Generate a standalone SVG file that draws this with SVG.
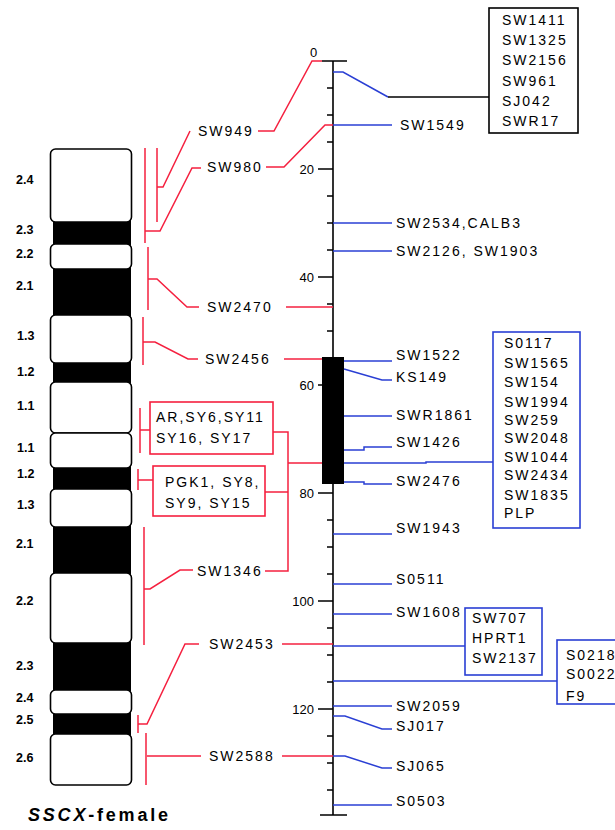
<svg xmlns="http://www.w3.org/2000/svg" width="615" height="830" viewBox="0 0 615 830">
<style>
text{font-family:"Liberation Sans",Arial,sans-serif;fill:#000}
.lbl{font-size:14px;letter-spacing:2px}
.band{font-size:12.5px;font-weight:bold}
.ax{font-size:13px}
.r{stroke:#f5203f;stroke-width:1.5;fill:none}
.b{stroke:#2a3fd4;stroke-width:1.5;fill:none}
.k{stroke:#000;stroke-width:1.6;fill:none}
.wb{fill:#fff;stroke:#000;stroke-width:1.6}
.bb{fill:#000}
.rbox{fill:#fff;stroke:#f5203f;stroke-width:1.6}
.bbox{fill:#fff;stroke:#2a3fd4;stroke-width:1.6}
.kbox{fill:#fff;stroke:#000;stroke-width:1.6}
</style>
<rect width="615" height="830" fill="#fff"/>

<g id="chromosome">
<rect class="bb" x="53" y="220" width="78" height="26"/>
<rect class="bb" x="53" y="267" width="78" height="50"/>
<rect class="bb" x="53" y="361" width="78" height="23"/>
<rect class="bb" x="53" y="466" width="78" height="25"/>
<rect class="bb" x="53" y="525" width="78" height="50"/>
<rect class="bb" x="53" y="641" width="78" height="51"/>
<rect class="bb" x="53" y="712" width="78" height="24"/>
<rect class="wb" x="50.5" y="149" width="81" height="73" rx="5"/>
<rect class="wb" x="50.5" y="244" width="81" height="25" rx="5"/>
<rect class="wb" x="50.5" y="315" width="81" height="48" rx="5"/>
<rect class="wb" x="50.5" y="382" width="81" height="51" rx="5"/>
<rect class="wb" x="50.5" y="433" width="81" height="35" rx="5"/>
<rect class="wb" x="50.5" y="489" width="81" height="38" rx="5"/>
<rect class="wb" x="50.5" y="573" width="81" height="70" rx="5"/>
<rect class="wb" x="50.5" y="690" width="81" height="24" rx="5"/>
<rect class="wb" x="50.5" y="734" width="81" height="51" rx="5"/>
<text class="band" x="16" y="184">2.4</text>
<text class="band" x="16" y="234">2.3</text>
<text class="band" x="16" y="258">2.2</text>
<text class="band" x="16" y="290">2.1</text>
<text class="band" x="17" y="340">1.3</text>
<text class="band" x="17" y="376">1.2</text>
<text class="band" x="17" y="410">1.1</text>
<text class="band" x="17" y="452">1.1</text>
<text class="band" x="17" y="478">1.2</text>
<text class="band" x="17" y="509">1.3</text>
<text class="band" x="16" y="548">2.1</text>
<text class="band" x="16" y="605">2.2</text>
<text class="band" x="16" y="670">2.3</text>
<text class="band" x="16" y="702">2.4</text>
<text class="band" x="16" y="724">2.5</text>
<text class="band" x="16" y="762">2.6</text>
<text x="28" y="821" font-size="18" font-weight="bold" letter-spacing="2.8"><tspan font-style="italic">SSCX</tspan>-female</text>
</g>

<g id="axis">
<path class="k" d="M333 61V815M322 61H347M320 815H347"/>
<path class="k" d="M318 169H333M318 277H333M318 385H333M318 493H333M318 601H333M318 709H333"/>
<path class="k" d="M327 88H333M327 115H333M327 142H333M327 196H333M327 223H333M327 250H333M327 304H333M327 331H333M327 358H333M327 412H333M327 439H333M327 466H333M327 520H333M327 547H333M327 574H333M327 628H333M327 655H333M327 682H333M327 736H333M327 763H333M327 790H333"/>
<text class="ax" x="310" y="57">0</text>
<text class="ax" x="314" y="174" text-anchor="end">20</text>
<text class="ax" x="314" y="282" text-anchor="end">40</text>
<text class="ax" x="314" y="390" text-anchor="end">60</text>
<text class="ax" x="314" y="498" text-anchor="end">80</text>
<text class="ax" x="314" y="606" text-anchor="end">100</text>
<text class="ax" x="314" y="714" text-anchor="end">120</text>
<rect x="322" y="357" width="22" height="127" fill="#000"/>
</g>

<g id="connectors">
<path class="r" d="M322 61H312L274 131H258"/>
<path class="r" d="M190 131L163 187H157M157 148V222"/>
<path class="r" d="M333 125H325L284 167H266"/>
<path class="r" d="M201 168H192L160 231H145M145 148V243"/>
<path class="r" d="M333 307H286"/>
<path class="r" d="M199 307H187L157 279H148M148 247V310"/>
<path class="r" d="M322 359H284"/>
<path class="r" d="M198 359H188L155 342H143M143 317V365"/>
<path class="r" d="M140 408V453M140 430H150"/>
<path class="r" d="M138 469V490M138 480H153"/>
<path class="r" d="M322 463H288M273 432H288V571H265M265 492H288"/>
<path class="r" d="M193 570H180L150 589H144M144 527V645"/>
<path class="r" d="M333 644H282"/>
<path class="r" d="M199 644H185L147 724H138M138 715V733"/>
<path class="r" d="M333 756H282"/>
<path class="r" d="M201 756H147M146 733V785"/>
<path class="b" d="M333 72H343L388 97"/>
<path class="k" d="M388 97H489"/>
<path class="b" d="M333 125H392"/>
<path class="b" d="M333 223H392"/>
<path class="b" d="M333 251H392"/>
<path class="b" d="M344 361H392"/>
<path class="b" d="M344 369L382 380H392"/>
<path class="b" d="M344 416H392"/>
<path class="b" d="M344 450H364V447H392"/>
<path class="b" d="M344 463H426V462H493"/>
<path class="b" d="M344 482H364V484H392"/>
<path class="b" d="M333 534H392"/>
<path class="b" d="M333 584H392"/>
<path class="b" d="M333 614H392"/>
<path class="b" d="M333 646H465"/>
<path class="b" d="M333 681H557"/>
<path class="b" d="M333 706H392"/>
<path class="b" d="M333 716H345L382 729H392"/>
<path class="b" d="M333 756H345L382 768H392"/>
<path class="b" d="M333 805H392"/>
</g>

<g id="left-labels">
<text class="lbl" x="198" y="136">SW949</text>
<text class="lbl" x="207" y="172">SW980</text>
<text class="lbl" x="207" y="312">SW2470</text>
<text class="lbl" x="205" y="364">SW2456</text>
<text class="lbl" x="197" y="576">SW1346</text>
<text class="lbl" x="209" y="649">SW2453</text>
<text class="lbl" x="209" y="761">SW2588</text>
</g>

<g id="box-AR">
<rect class="rbox" x="150" y="402" width="123" height="52"/>
<text class="lbl" x="156" y="422">AR,SY6,SY11</text>
<text class="lbl" x="156" y="443">SY16, SY17</text>
</g>
<g id="box-PGK1">
<rect class="rbox" x="153" y="466" width="112" height="50"/>
<text class="lbl" x="165" y="487">PGK1, SY8,</text>
<text class="lbl" x="165" y="508">SY9, SY15</text>
</g>

<g id="box-SW1411">
<rect class="kbox" x="489" y="8" width="89" height="125"/>
<text class="lbl" x="502" y="25">SW1411</text>
<text class="lbl" x="502" y="45">SW1325</text>
<text class="lbl" x="502" y="65">SW2156</text>
<text class="lbl" x="502" y="86">SW961</text>
<text class="lbl" x="502" y="106">SJ042</text>
<text class="lbl" x="502" y="126">SWR17</text>
</g>

<g id="right-labels">
<text class="lbl" x="400" y="130">SW1549</text>
<text class="lbl" x="396" y="228">SW2534,CALB3</text>
<text class="lbl" x="396" y="256">SW2126, SW1903</text>
<text class="lbl" x="396" y="360">SW1522</text>
<text class="lbl" x="396" y="382">KS149</text>
<text class="lbl" x="396" y="420">SWR1861</text>
<text class="lbl" x="396" y="447">SW1426</text>
<text class="lbl" x="396" y="486">SW2476</text>
<text class="lbl" x="396" y="533">SW1943</text>
<text class="lbl" x="396" y="584">S0511</text>
<text class="lbl" x="396" y="617">SW1608</text>
<text class="lbl" x="396" y="711">SW2059</text>
<text class="lbl" x="396" y="731">SJ017</text>
<text class="lbl" x="396" y="771">SJ065</text>
<text class="lbl" x="396" y="806">S0503</text>
</g>

<g id="box-S0117">
<rect class="bbox" x="493" y="332" width="87" height="196"/>
<text class="lbl" x="504" y="348">S0117</text>
<text class="lbl" x="504" y="368">SW1565</text>
<text class="lbl" x="504" y="387">SW154</text>
<text class="lbl" x="504" y="407">SW1994</text>
<text class="lbl" x="504" y="425">SW259</text>
<text class="lbl" x="504" y="443">SW2048</text>
<text class="lbl" x="504" y="462">SW1044</text>
<text class="lbl" x="504" y="480">SW2434</text>
<text class="lbl" x="504" y="500">SW1835</text>
<text class="lbl" x="504" y="518">PLP</text>
</g>

<g id="box-SW707">
<rect class="bbox" x="465" y="608" width="77" height="67"/>
<text class="lbl" x="472" y="623">SW707</text>
<text class="lbl" x="472" y="643">HPRT1</text>
<text class="lbl" x="472" y="663">SW2137</text>
</g>

<g id="box-S0218">
<rect class="bbox" x="557" y="640" width="70" height="64"/>
<text class="lbl" x="566" y="660">S0218</text>
<text class="lbl" x="566" y="679">S0022</text>
<text class="lbl" x="566" y="701">F9</text>
</g>
</svg>
